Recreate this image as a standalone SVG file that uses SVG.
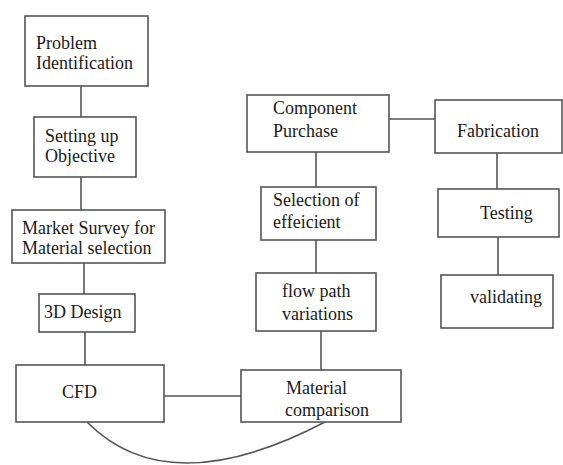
<svg xmlns="http://www.w3.org/2000/svg" width="563" height="465" viewBox="0 0 563 465">
<style>
.box{fill:#fff;stroke:#555;stroke-width:1.6}
.ln{fill:none;stroke:#555;stroke-width:1.6}
text{font-family:"Liberation Serif","Times New Roman",serif;font-size:18px;fill:#1a1a1a}
</style>
<rect width="563" height="465" fill="#fff"/>
<g id="connectors">
<line class="ln" x1="81" y1="86" x2="81" y2="117"/>
<line class="ln" x1="81" y1="177" x2="81" y2="210"/>
<line class="ln" x1="84" y1="263" x2="84" y2="294"/>
<line class="ln" x1="85" y1="332" x2="85" y2="365"/>
<line class="ln" x1="164" y1="396" x2="241" y2="396"/>
<line class="ln" x1="321" y1="331" x2="321" y2="370"/>
<line class="ln" x1="316" y1="152" x2="316" y2="187"/>
<line class="ln" x1="316" y1="240" x2="316" y2="273"/>
<line class="ln" x1="389" y1="119" x2="435" y2="119"/>
<line class="ln" x1="497" y1="153" x2="497" y2="189"/>
<line class="ln" x1="498" y1="237" x2="498" y2="275"/>
<path class="ln" d="M87 422 Q168 504 325 422"/>
</g>
<g id="problem"><rect class="box" x="25" y="16" width="123" height="70"/><text x="36" y="49">Problem</text><text x="36" y="69">Identification</text></g>
<g id="objective"><rect class="box" x="34" y="117" width="102" height="60"/><text x="45" y="142">Setting up</text><text x="45" y="162">Objective</text></g>
<g id="survey"><rect class="box" x="12" y="210" width="153" height="53"/><text x="22" y="234">Market Survey for</text><text x="22" y="254">Material selection</text></g>
<g id="design"><rect class="box" x="39" y="294" width="96" height="38"/><text x="44" y="318">3D Design</text></g>
<g id="cfd"><rect class="box" x="16" y="365" width="148" height="57"/><text x="62" y="398">CFD</text></g>
<g id="material"><rect class="box" x="241" y="370" width="160" height="52"/><text x="286" y="394">Material</text><text x="285" y="416">comparison</text></g>
<g id="flow"><rect class="box" x="256" y="273" width="120" height="58"/><text x="282" y="297">flow path</text><text x="282" y="320">variations</text></g>
<g id="selection"><rect class="box" x="261" y="187" width="115" height="53"/><text x="273" y="206">Selection of</text><text x="273" y="228">effeicient</text></g>
<g id="component"><rect class="box" x="247" y="95" width="142" height="57"/><text x="273" y="114">Component</text><text x="273" y="137">Purchase</text></g>
<g id="fabrication"><rect class="box" x="435" y="100" width="127" height="53"/><text x="457" y="137">Fabrication</text></g>
<g id="testing"><rect class="box" x="438" y="189" width="121" height="48"/><text x="480" y="219">Testing</text></g>
<g id="validating"><rect class="box" x="441" y="275" width="112" height="53"/><text x="470" y="303">validating</text></g>
</svg>
